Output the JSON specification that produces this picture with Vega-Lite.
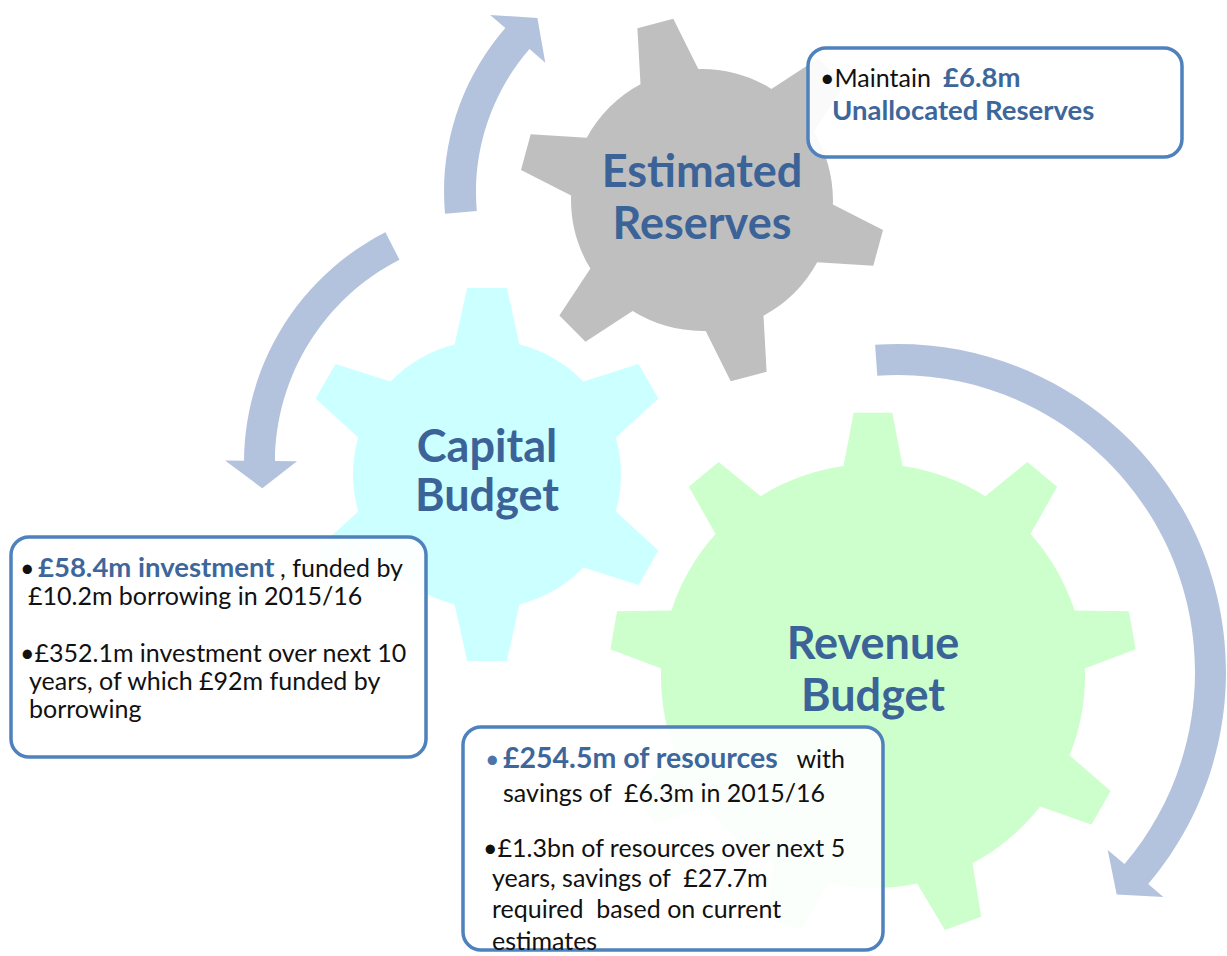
{
  "$schema": "https://vega.github.io/schema/vega-lite/v6.json",
  "width": 1227,
  "height": 956,
  "padding": 0,
  "autosize": {"type": "none"},
  "background": "white",
  "config": {"view": {"stroke": null}},
  "encoding": {
    "x": {"field": "x", "type": "quantitative", "scale": {"domain": [0, 1227], "nice": false, "zero": false}, "axis": null},
    "y": {"field": "y", "type": "quantitative", "scale": {"domain": [0, 956], "nice": false, "zero": false, "reverse": true}, "axis": null}
  },
  "layer": [
    {
      "data": {"values": [{"x": 694, "y": 192, "arrow": "Reserves to Capital"}]},
      "mark": {"type": "point", "filled": true, "opacity": 1, "size": 4, "fill": "#b4c3dd", "strokeWidth": 0,
        "shape": "M-249,21.8 A250,250 0 0 1 -188.7,-164 L-203.8,-177.1 L-156.6,-173.9 L-148.7,-129.2 L-164.5,-143 A218,218 0 0 0 -217.2,19 Z"}
    },
    {
      "data": {"values": [{"x": 503, "y": 463, "arrow": "Capital to Revenue"}]},
      "mark": {"type": "point", "filled": true, "opacity": 1, "size": 4, "fill": "#b4c3dd", "strokeWidth": 0,
        "shape": "M-117.6,-230.8 A259,259 0 0 0 -259,-2.3 L-278,-2.4 L-240.7,25.3 L-206,-1.8 L-228,-2 A228,228 0 0 1 -103.5,-203.2 Z"}
    },
    {
      "data": {"values": [{"x": 898, "y": 672, "arrow": "Revenue cycle"}]},
      "mark": {"type": "point", "filled": true, "opacity": 1, "size": 4, "fill": "#b4c3dd", "strokeWidth": 0,
        "shape": "M-22.9,-327.2 A328,328 0 0 1 250.2,212.1 L265.4,225.1 L218.7,222.5 L209.7,177.9 L226.5,192.1 A297,297 0 0 0 -20.7,-296.3 Z"}
    },
    {
      "data": {"values": [{"x": 702, "y": 200, "gear": "Estimated Reserves"}]},
      "mark": {"type": "point", "filled": true, "opacity": 1, "size": 4, "fill": "#bfbfbf", "strokeWidth": 0,
        "shape": "M130.9,4.6 L181,30 L171.3,65.8 L115.2,62.3 A131,131 0 0 1 61.5,115.7 L64.6,171.8 L28.7,181.2 L3.7,130.9 A131,131 0 0 1 -69.4,111.1 L-116.5,141.8 L-142.6,115.5 L-111.6,68.6 A131,131 0 0 1 -130.9,-4.6 L-181,-30 L-171.3,-65.8 L-115.2,-62.3 A131,131 0 0 1 -61.5,-115.7 L-64.6,-171.8 L-28.7,-181.2 L-3.7,-130.9 A131,131 0 0 1 69.4,-111.1 L116.5,-141.8 L142.6,-115.5 L111.6,-68.6 A131,131 0 0 1 130.9,4.6 Z"}
    },
    {
      "data": {"values": [{"x": 487, "y": 474.5, "gear": "Capital Budget"}]},
      "mark": {"type": "point", "filled": true, "opacity": 1, "size": 4, "fill": "#ccffff", "strokeWidth": 0,
        "shape": "M128.8,36.9 L171.4,76 L151.5,110.5 L96.4,93.1 A134,134 0 0 1 32.4,130 L19.9,186.4 L-19.9,186.4 L-32.4,130 A134,134 0 0 1 -96.4,93.1 L-151.5,110.5 L-171.4,76 L-128.8,36.9 A134,134 0 0 1 -128.8,-36.9 L-171.4,-76 L-151.5,-110.5 L-96.4,-93.1 A134,134 0 0 1 -32.4,-130 L-19.9,-186.4 L19.9,-186.4 L32.4,-130 A134,134 0 0 1 96.4,-93.1 L151.5,-110.5 L171.4,-76 L128.8,-36.9 A134,134 0 0 1 128.8,36.9 Z"}
    },
    {
      "data": {"values": [{"x": 873, "y": 676, "gear": "Revenue Budget"}]},
      "mark": {"type": "point", "filled": true, "opacity": 1, "size": 4, "fill": "#ccffcc", "strokeWidth": 0,
        "shape": "M196.6,79.4 L237.7,114.9 L218.4,148.4 L167.1,130.5 A212,212 0 0 1 99.5,187.2 L108.2,240.8 L71.9,254 L44.1,207.4 A212,212 0 0 1 -44.1,207.4 L-71.9,254 L-108.2,240.8 L-99.5,187.2 A212,212 0 0 1 -167.1,130.5 L-218.4,148.4 L-237.7,114.9 L-196.6,79.4 A212,212 0 0 1 -211.9,-7.4 L-262.6,-26.7 L-255.9,-64.8 L-201.6,-65.5 A212,212 0 0 1 -157.5,-141.9 L-184.1,-189.3 L-154.4,-214.1 L-112.3,-179.8 A212,212 0 0 1 -29.5,-209.9 L-19.3,-263.3 L19.3,-263.3 L29.5,-209.9 A212,212 0 0 1 112.3,-179.8 L154.4,-214.1 L184.1,-189.3 L157.5,-141.9 A212,212 0 0 1 201.6,-65.5 L255.9,-64.8 L262.6,-26.7 L211.9,-7.4 A212,212 0 0 1 196.6,79.4 Z"}
    },
    {
      "data": {"values": [
        {"x": 702, "y": 187, "t": "Estimated"},
        {"x": 702, "y": 239, "t": "Reserves"},
        {"x": 487, "y": 462, "t": "Capital"},
        {"x": 487, "y": 511, "t": "Budget"},
        {"x": 873, "y": 659, "t": "Revenue"},
        {"x": 873, "y": 711, "t": "Budget"}
      ]},
      "mark": {"type": "text", "font": "Lato", "fontSize": 45, "fontWeight": "bold", "fill": "#3b6397", "align": "center", "baseline": "alphabetic"},
      "encoding": {"text": {"field": "t"}}
    },
    {
      "data": {"values": [
        {"x": 808, "x2": 1182, "y": 48, "y2": 157, "box": "Reserves"},
        {"x": 11, "x2": 426, "y": 537, "y2": 757, "box": "Capital"},
        {"x": 463, "x2": 883, "y": 727, "y2": 950, "box": "Revenue"}
      ]},
      "mark": {"type": "rect", "cornerRadius": 18, "fill": "#ffffff", "fillOpacity": 0.92, "stroke": "#4f81bd", "strokeWidth": 3.5},
      "encoding": {"x2": {"field": "x2"}, "y2": {"field": "y2"}}
    },
    {
      "data": {"values": [
        {"x": 820, "y": 87, "t": "•Maintain"},
        {"x": 20, "y": 577, "t": "•"},
        {"x": 28, "y": 605, "t": "£10.2m borrowing in 2015/16"},
        {"x": 20, "y": 662, "t": "•£352.1m investment over next 10"},
        {"x": 29, "y": 690, "t": "years, of which £92m funded by"},
        {"x": 29, "y": 718, "t": "borrowing"},
        {"x": 503, "y": 802, "t": "savings of \u00a0£6.3m in 2015/16"},
        {"x": 483, "y": 857, "t": "•£1.3bn of resources over next 5"},
        {"x": 492, "y": 887, "t": "years, savings of \u00a0£27.7m"},
        {"x": 492, "y": 918, "t": "required \u00a0based on current"},
        {"x": 492, "y": 950, "t": "estimates"}
      ]},
      "mark": {"type": "text", "font": "Lato", "fontSize": 25, "fill": "#111111", "align": "left", "baseline": "alphabetic"},
      "encoding": {"text": {"field": "t"}}
    },
    {
      "data": {"values": [
        {"x": 403, "y": 577, "t": ", funded by"},
        {"x": 845, "y": 768, "t": "with"}
      ]},
      "mark": {"type": "text", "font": "Lato", "fontSize": 25, "fill": "#111111", "align": "right", "baseline": "alphabetic"},
      "encoding": {"text": {"field": "t"}}
    },
    {
      "data": {"values": [
        {"x": 485, "y": 768, "t": "•"}
      ]},
      "mark": {"type": "text", "font": "Lato", "fontSize": 25, "fill": "#4f74a6", "align": "left", "baseline": "alphabetic"},
      "encoding": {"text": {"field": "t"}}
    },
    {
      "data": {"values": [
        {"x": 943, "y": 87, "t": "£6.8m"},
        {"x": 832, "y": 120, "t": "Unallocated Reserves"},
        {"x": 38, "y": 577, "t": "£58.4m investment"}
      ]},
      "mark": {"type": "text", "font": "Lato", "fontSize": 27.5, "fontWeight": "bold", "fill": "#3d679b", "align": "left", "baseline": "alphabetic"},
      "encoding": {"text": {"field": "t"}}
    },
    {
      "data": {"values": [
        {"x": 503, "y": 768, "t": "£254.5m of resources"}
      ]},
      "mark": {"type": "text", "font": "Lato", "fontSize": 28.5, "fontWeight": "bold", "fill": "#3d679b", "align": "left", "baseline": "alphabetic"},
      "encoding": {"text": {"field": "t"}}
    }
  ]
}
